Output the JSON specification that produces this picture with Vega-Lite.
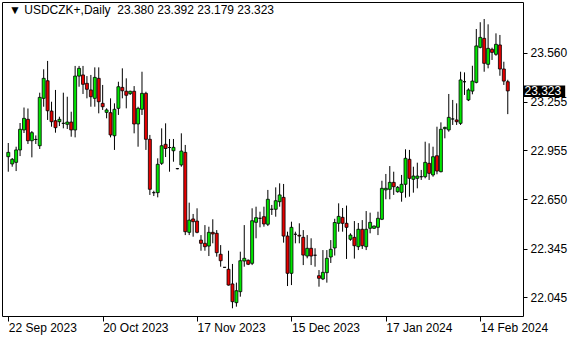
{
  "$schema": "https://vega.github.io/schema/vega-lite/v6.json",
  "width": 521,
  "height": 314,
  "autosize": "none",
  "padding": {"left": 2, "top": 2, "right": 57, "bottom": 24},
  "background": "white",
  "config": {
    "view": {"stroke": "black", "strokeWidth": 1},
    "font": "Liberation Sans",
    "axis": {"grid": false, "domain": false, "tickColor": "black", "labelColor": "black", "labelFont": "Liberation Sans", "labelFontSize": 12, "title": null, "labelFlush": false, "labelOverlap": false}
  },
  "datasets": {
    "bars": [
      {"i":0,"o":22.915,"h":23.000,"l":22.822,"c":22.942},
      {"i":1,"o":22.870,"h":22.907,"l":22.853,"c":22.899},
      {"i":2,"o":22.880,"h":22.977,"l":22.826,"c":22.957},
      {"i":3,"o":22.957,"h":23.124,"l":22.919,"c":23.085},
      {"i":4,"o":23.081,"h":23.220,"l":23.062,"c":23.153},
      {"i":5,"o":23.147,"h":23.214,"l":22.994,"c":23.014},
      {"i":6,"o":23.014,"h":23.074,"l":22.911,"c":23.064},
      {"i":7,"o":23.022,"h":23.047,"l":22.994,"c":23.022},
      {"i":8,"o":22.983,"h":23.312,"l":22.963,"c":23.283},
      {"i":9,"o":23.277,"h":23.457,"l":23.225,"c":23.401},
      {"i":10,"o":23.386,"h":23.509,"l":23.143,"c":23.200},
      {"i":11,"o":23.198,"h":23.256,"l":23.101,"c":23.132},
      {"i":12,"o":23.138,"h":23.329,"l":23.064,"c":23.095},
      {"i":13,"o":23.132,"h":23.163,"l":23.105,"c":23.147},
      {"i":14,"o":23.122,"h":23.312,"l":23.091,"c":23.122},
      {"i":15,"o":23.116,"h":23.287,"l":23.087,"c":23.130},
      {"i":16,"o":23.130,"h":23.194,"l":23.039,"c":23.081},
      {"i":17,"o":23.081,"h":23.478,"l":23.035,"c":23.415},
      {"i":18,"o":23.415,"h":23.478,"l":23.349,"c":23.463},
      {"i":19,"o":23.422,"h":23.478,"l":23.304,"c":23.364},
      {"i":20,"o":23.370,"h":23.415,"l":23.277,"c":23.333},
      {"i":21,"o":23.329,"h":23.422,"l":23.225,"c":23.287},
      {"i":22,"o":23.277,"h":23.469,"l":23.225,"c":23.407},
      {"i":23,"o":23.401,"h":23.469,"l":23.184,"c":23.256},
      {"i":24,"o":23.246,"h":23.360,"l":23.205,"c":23.225},
      {"i":25,"o":23.190,"h":23.215,"l":23.153,"c":23.205},
      {"i":26,"o":23.188,"h":23.277,"l":23.035,"c":23.050},
      {"i":27,"o":23.045,"h":23.246,"l":22.957,"c":23.209},
      {"i":28,"o":23.215,"h":23.380,"l":23.174,"c":23.349},
      {"i":29,"o":23.345,"h":23.463,"l":23.277,"c":23.324},
      {"i":30,"o":23.321,"h":23.401,"l":23.215,"c":23.296},
      {"i":31,"o":23.306,"h":23.324,"l":23.298,"c":23.321},
      {"i":32,"o":23.321,"h":23.353,"l":23.060,"c":23.118},
      {"i":33,"o":23.118,"h":23.225,"l":22.977,"c":23.215},
      {"i":34,"o":23.209,"h":23.442,"l":23.174,"c":23.308},
      {"i":35,"o":23.308,"h":23.318,"l":22.957,"c":23.023},
      {"i":36,"o":23.023,"h":23.050,"l":22.678,"c":22.713},
      {"i":37,"o":22.692,"h":22.704,"l":22.671,"c":22.692},
      {"i":38,"o":22.692,"h":22.905,"l":22.663,"c":22.868},
      {"i":39,"o":22.874,"h":23.091,"l":22.864,"c":22.983},
      {"i":40,"o":22.992,"h":23.122,"l":22.913,"c":22.966},
      {"i":41,"o":22.972,"h":23.025,"l":22.822,"c":22.972},
      {"i":42,"o":22.952,"h":23.025,"l":22.884,"c":22.973},
      {"i":43,"o":22.841,"h":22.845,"l":22.837,"c":22.841},
      {"i":44,"o":22.864,"h":23.060,"l":22.853,"c":22.950},
      {"i":45,"o":22.942,"h":22.988,"l":22.429,"c":22.450},
      {"i":46,"o":22.446,"h":22.630,"l":22.429,"c":22.522},
      {"i":47,"o":22.529,"h":22.560,"l":22.419,"c":22.512},
      {"i":48,"o":22.516,"h":22.595,"l":22.440,"c":22.446},
      {"i":49,"o":22.398,"h":22.429,"l":22.332,"c":22.378},
      {"i":50,"o":22.378,"h":22.491,"l":22.332,"c":22.357},
      {"i":51,"o":22.361,"h":22.481,"l":22.299,"c":22.446},
      {"i":52,"o":22.446,"h":22.527,"l":22.378,"c":22.436},
      {"i":53,"o":22.440,"h":22.460,"l":22.295,"c":22.320},
      {"i":54,"o":22.310,"h":22.367,"l":22.233,"c":22.270},
      {"i":55,"o":22.229,"h":22.231,"l":22.227,"c":22.229},
      {"i":56,"o":22.217,"h":22.332,"l":22.116,"c":22.119},
      {"i":57,"o":22.126,"h":22.250,"l":21.975,"c":22.016},
      {"i":58,"o":22.010,"h":22.134,"l":21.985,"c":22.084},
      {"i":59,"o":22.078,"h":22.326,"l":22.047,"c":22.270},
      {"i":60,"o":22.268,"h":22.491,"l":22.233,"c":22.285},
      {"i":61,"o":22.273,"h":22.278,"l":22.243,"c":22.248},
      {"i":62,"o":22.254,"h":22.595,"l":22.243,"c":22.518},
      {"i":63,"o":22.508,"h":22.605,"l":22.409,"c":22.537},
      {"i":64,"o":22.533,"h":22.574,"l":22.477,"c":22.533},
      {"i":65,"o":22.543,"h":22.605,"l":22.481,"c":22.498},
      {"i":66,"o":22.496,"h":22.709,"l":22.485,"c":22.651},
      {"i":67,"o":22.589,"h":22.616,"l":22.554,"c":22.589},
      {"i":68,"o":22.589,"h":22.725,"l":22.543,"c":22.642},
      {"i":69,"o":22.636,"h":22.750,"l":22.605,"c":22.678},
      {"i":70,"o":22.663,"h":22.746,"l":22.382,"c":22.423},
      {"i":71,"o":22.423,"h":22.450,"l":22.113,"c":22.192},
      {"i":72,"o":22.192,"h":22.512,"l":22.119,"c":22.477},
      {"i":73,"o":22.434,"h":22.450,"l":22.378,"c":22.434},
      {"i":74,"o":22.428,"h":22.502,"l":22.378,"c":22.423},
      {"i":75,"o":22.415,"h":22.460,"l":22.243,"c":22.305},
      {"i":76,"o":22.299,"h":22.429,"l":22.285,"c":22.347},
      {"i":77,"o":22.347,"h":22.409,"l":22.243,"c":22.299},
      {"i":78,"o":22.304,"h":22.347,"l":22.233,"c":22.304},
      {"i":79,"o":22.177,"h":22.212,"l":22.109,"c":22.161},
      {"i":80,"o":22.157,"h":22.336,"l":22.150,"c":22.198},
      {"i":81,"o":22.196,"h":22.336,"l":22.134,"c":22.285},
      {"i":82,"o":22.293,"h":22.398,"l":22.256,"c":22.341},
      {"i":83,"o":22.349,"h":22.530,"l":22.302,"c":22.507},
      {"i":84,"o":22.502,"h":22.626,"l":22.450,"c":22.545},
      {"i":85,"o":22.539,"h":22.597,"l":22.450,"c":22.502},
      {"i":86,"o":22.502,"h":22.612,"l":22.281,"c":22.477},
      {"i":87,"o":22.403,"h":22.440,"l":22.394,"c":22.429},
      {"i":88,"o":22.415,"h":22.516,"l":22.283,"c":22.363},
      {"i":89,"o":22.357,"h":22.504,"l":22.336,"c":22.465},
      {"i":90,"o":22.465,"h":22.522,"l":22.343,"c":22.363},
      {"i":91,"o":22.357,"h":22.578,"l":22.336,"c":22.465},
      {"i":92,"o":22.471,"h":22.568,"l":22.440,"c":22.508},
      {"i":93,"o":22.471,"h":22.488,"l":22.468,"c":22.485},
      {"i":94,"o":22.477,"h":22.574,"l":22.429,"c":22.533},
      {"i":95,"o":22.527,"h":22.766,"l":22.522,"c":22.719},
      {"i":96,"o":22.709,"h":22.808,"l":22.651,"c":22.719},
      {"i":97,"o":22.713,"h":22.857,"l":22.651,"c":22.756},
      {"i":98,"o":22.756,"h":22.822,"l":22.678,"c":22.729},
      {"i":99,"o":22.698,"h":22.733,"l":22.692,"c":22.725},
      {"i":100,"o":22.694,"h":22.802,"l":22.636,"c":22.744},
      {"i":101,"o":22.744,"h":22.961,"l":22.661,"c":22.905},
      {"i":102,"o":22.899,"h":22.957,"l":22.667,"c":22.781},
      {"i":103,"o":22.775,"h":22.853,"l":22.692,"c":22.795},
      {"i":104,"o":22.781,"h":22.878,"l":22.719,"c":22.795},
      {"i":105,"o":22.791,"h":22.833,"l":22.771,"c":22.791},
      {"i":106,"o":22.791,"h":23.008,"l":22.781,"c":22.880},
      {"i":107,"o":22.874,"h":22.998,"l":22.771,"c":22.812},
      {"i":108,"o":22.802,"h":22.977,"l":22.791,"c":22.915},
      {"i":109,"o":22.921,"h":23.101,"l":22.806,"c":22.826},
      {"i":110,"o":22.822,"h":23.128,"l":22.818,"c":23.085},
      {"i":111,"o":23.089,"h":23.101,"l":23.029,"c":23.097},
      {"i":112,"o":23.081,"h":23.304,"l":23.070,"c":23.159},
      {"i":113,"o":23.149,"h":23.267,"l":23.112,"c":23.149},
      {"i":114,"o":23.143,"h":23.246,"l":23.112,"c":23.132},
      {"i":115,"o":23.122,"h":23.442,"l":23.112,"c":23.391},
      {"i":116,"o":23.380,"h":23.438,"l":23.298,"c":23.380},
      {"i":117,"o":23.267,"h":23.339,"l":23.260,"c":23.329},
      {"i":118,"o":23.322,"h":23.479,"l":23.302,"c":23.384},
      {"i":119,"o":23.376,"h":23.707,"l":23.370,"c":23.602},
      {"i":120,"o":23.593,"h":23.749,"l":23.587,"c":23.655},
      {"i":121,"o":23.649,"h":23.769,"l":23.442,"c":23.494},
      {"i":122,"o":23.488,"h":23.736,"l":23.463,"c":23.587},
      {"i":123,"o":23.581,"h":23.591,"l":23.515,"c":23.562},
      {"i":124,"o":23.550,"h":23.680,"l":23.541,"c":23.612},
      {"i":125,"o":23.608,"h":23.670,"l":23.417,"c":23.459},
      {"i":126,"o":23.459,"h":23.504,"l":23.360,"c":23.384},
      {"i":127,"o":23.380,"h":23.392,"l":23.179,"c":23.323}
    ]
  },
  "layer": [
    {
      "data": {"name": "bars"},
      "mark": {"type": "rule", "color": "black", "strokeWidth": 1},
      "encoding": {
        "x": {"field": "i", "type": "quantitative", "scale": {"domain": [-0.324, 129.6], "nice": false, "zero": false},
          "axis": {"orient": "bottom", "values": [0, 24, 48, 72, 96, 120], "tickSize": 5, "labelPadding": 1, "labelAlign": "left", "labelBaseline": "top",
            "labelExpr": "datum.value == 0 ? '22 Sep 2023' : datum.value == 24 ? '20 Oct 2023' : datum.value == 48 ? '17 Nov 2023' : datum.value == 72 ? '15 Dec 2023' : datum.value == 96 ? '17 Jan 2024' : '14 Feb 2024'"}},
        "y": {"field": "l", "type": "quantitative", "scale": {"domain": [21.9272, 23.8744], "nice": false, "zero": false},
          "axis": {"orient": "right", "values": [22.045, 22.345, 22.65, 22.955, 23.255, 23.56], "format": ".3f", "tickSize": 4, "labelPadding": 3}},
        "y2": {"field": "h"}
      }
    },
    {
      "data": {"name": "bars"},
      "mark": {"type": "bar", "size": 3, "stroke": "black", "strokeWidth": 0.8},
      "encoding": {
        "x": {"field": "i", "type": "quantitative"},
        "y": {"field": "o", "type": "quantitative"},
        "y2": {"field": "c"},
        "fill": {"condition": {"test": "datum.c >= datum.o", "value": "#00e600"}, "value": "#e60000"}
      }
    },
    {
      "data": {"values": [{"p": 23.323, "lab": "23.323"}]},
      "mark": {"type": "rect", "color": "black", "clip": false},
      "encoding": {
        "x": {"datum": 131.0, "type": "quantitative"},
        "x2": {"datum": 141.6},
        "y": {"datum": 23.356, "type": "quantitative"},
        "y2": {"datum": 23.286}
      }
    },
    {
      "data": {"values": [{"p": 23.323, "lab": "23.323"}]},
      "mark": {"type": "text", "color": "white", "align": "left", "baseline": "middle", "fontSize": 12, "font": "Liberation Sans", "clip": false, "dx": 1},
      "encoding": {
        "x": {"datum": 131.0, "type": "quantitative"},
        "y": {"field": "p", "type": "quantitative"},
        "text": {"field": "lab"}
      }
    },
    {
      "data": {"values": [{"lab": "▼ USDCZK+,Daily\u00a0 23.380 23.392 23.179 23.323"}]},
      "mark": {"type": "text", "color": "black", "align": "left", "baseline": "top", "fontSize": 12, "font": "Liberation Sans", "dx": 2, "dy": 3},
      "encoding": {
        "x": {"datum": -0.324, "type": "quantitative"},
        "y": {"datum": 23.8744, "type": "quantitative"},
        "text": {"field": "lab"}
      }
    }
  ]
}
